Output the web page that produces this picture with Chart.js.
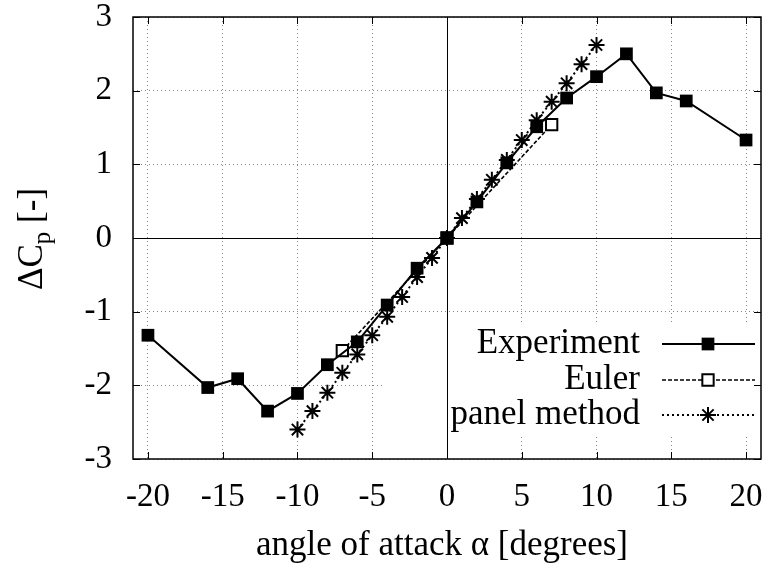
<!DOCTYPE html>
<html>
<head>
<meta charset="utf-8">
<script src="https://cdn.jsdelivr.net/npm/chart.js@4.4.1/dist/chart.umd.min.js"></script>
<style>
  html, body { margin: 0; padding: 0; background: #fff; }
  #wrap { width: 768px; height: 570px; }
</style>
</head>
<body>
<div id="wrap"><canvas id="c" width="768" height="570"></canvas></div>
<script>
// data
const xTicks = [-20, -15, -10, -5, 0, 5, 10, 15, 20];
const yTicks = [-3, -2, -1, 0, 1, 2, 3];

const expAlpha = [-20, -16, -14, -12, -10, -8, -6, -4, -2, 0, 2, 4, 6, 8, 10, 12, 14, 16, 20];
const expDcp   = [-1.32, -2.03, -1.91, -2.35, -2.11, -1.72, -1.41, -0.91, -0.41, 0, 0.49, 1.02, 1.51, 1.90, 2.19, 2.50, 1.97, 1.86, 1.33];

const eulAlpha = [-7, 0, 7];
const eulDcp   = [-1.53, 0, 1.54];

const panAlpha = [-10, -9, -8, -7, -6, -5, -4, -3, -2, -1, 0, 1, 2, 3, 4, 5, 6, 7, 8, 9, 10];
const panDcp   = [-2.60, -2.35, -2.10, -1.83, -1.58, -1.32, -1.07, -0.80, -0.53, -0.27, 0, 0.27, 0.53, 0.79, 1.06, 1.33, 1.60, 1.85, 2.10, 2.36, 2.62];

const seriesNames = ["Experiment", "Euler", "panel method"];

const FONT = "'Liberation Serif', 'Times New Roman', serif";
const FS = 33;   // tick labels
const FL = 35;   // key and axis titles

function pts(xs, ys) { return xs.map((x, i) => ({ x, y: ys[i] })); }

const datasets = [
  {
    label: seriesNames[0], data: pts(expAlpha, expDcp),
    showLine: true, borderColor: "#000", borderWidth: 2,
    pointStyle: "rect", pointRadius: 9, pointBackgroundColor: "#000", pointBorderColor: "#000", pointBorderWidth: 0
  },
  {
    label: seriesNames[1], data: pts(eulAlpha, eulDcp),
    showLine: true, borderColor: "#000", borderWidth: 1.6, borderDash: [4, 2],
    pointStyle: "rect", pointRadius: 8, pointBackgroundColor: "#fff", pointBorderColor: "#000", pointBorderWidth: 2
  },
  {
    label: seriesNames[2], data: pts(panAlpha, panDcp),
    showLine: true, borderColor: "#000", borderWidth: 2, borderDash: [2, 3],
    pointStyle: "star", pointRadius: 8, pointBackgroundColor: "#000", pointBorderColor: "#000", pointBorderWidth: 2
  }
];

// white key box, zero axes, frame and inward ticks
const decor = {
  id: "decor",
  beforeDraw(chart) {
    const ctx = chart.ctx;
    ctx.save();
    ctx.fillStyle = "#fff";
    ctx.fillRect(0, 0, chart.width, chart.height);
    ctx.restore();
  },
  beforeDatasetsDraw(chart) {
    const { ctx, chartArea: a, scales: { x, y } } = chart;
    ctx.save();
    // key background hides grid
    ctx.fillStyle = "#fff";
    ctx.fillRect(385, 324, a.right - 385, 112);
    // zero axes
    ctx.strokeStyle = "#000";
    ctx.lineWidth = 1;
    const x0 = Math.round(x.getPixelForValue(0)) + 0.5;
    const y0 = Math.round(y.getPixelForValue(0)) + 0.5;
    ctx.beginPath();
    ctx.moveTo(x0, a.top); ctx.lineTo(x0, a.bottom);
    ctx.moveTo(a.left, y0); ctx.lineTo(a.right, y0);
    ctx.stroke();
    ctx.restore();
  },
  afterDatasetsDraw(chart) {
    const { ctx, chartArea: a, scales: { x, y } } = chart;
    ctx.save();
    ctx.strokeStyle = "#000";
    ctx.lineWidth = 1.5;
    ctx.strokeRect(a.left, a.top, a.right - a.left, a.bottom - a.top);
    // inward ticks, mirrored
    const tl = 7;
    ctx.lineWidth = 1;
    ctx.beginPath();
    xTicks.forEach(v => {
      const px = Math.round(x.getPixelForValue(v)) + 0.5;
      ctx.moveTo(px, a.bottom); ctx.lineTo(px, a.bottom - tl);
      ctx.moveTo(px, a.top); ctx.lineTo(px, a.top + tl);
    });
    yTicks.forEach(v => {
      const py = Math.round(y.getPixelForValue(v)) + 0.5;
      ctx.moveTo(a.left, py); ctx.lineTo(a.left + tl, py);
      ctx.moveTo(a.right, py); ctx.lineTo(a.right - tl, py);
    });
    ctx.stroke();

    // key
    ctx.font = FL + "px " + FONT;
    ctx.fillStyle = "#000";
    ctx.textAlign = "right";
    ctx.textBaseline = "middle";
    const rows = [344, 380, 415];
    chart.data.datasets.forEach((ds, i) => {
      const ry = rows[i];
      ctx.fillText(ds.label, 640, ry);
      ctx.save();
      ctx.strokeStyle = "#000";
      ctx.lineWidth = ds.borderWidth;
      ctx.setLineDash(ds.borderDash || []);
      ctx.beginPath();
      ctx.moveTo(662, ry); ctx.lineTo(755, ry);
      ctx.stroke();
      ctx.setLineDash([]);
      ctx.fillStyle = ds.pointBackgroundColor;
      ctx.strokeStyle = ds.pointBorderColor;
      ctx.lineWidth = ds.pointBorderWidth;
      Chart.helpers.drawPoint(ctx, {
        pointStyle: ds.pointStyle, radius: ds.pointRadius, rotation: 0,
        borderWidth: ds.pointBorderWidth
      }, 708, ry);
      ctx.restore();
    });

    // axis titles
    ctx.textAlign = "center";
    ctx.textBaseline = "alphabetic";
    ctx.fillText("angle of attack \u03b1 [degrees]", (a.left + a.right) / 2 - 5, 555);

    ctx.translate(42, 239);
    ctx.rotate(-Math.PI / 2);
    ctx.textAlign = "left";
    const main = "\u0394C", sub = "p", rest = " [-]";
    const subFont = Math.round(FL * 0.72) + "px " + FONT;
    const w1 = ctx.measureText(main).width;
    const w3 = ctx.measureText(rest).width;
    ctx.font = subFont;
    const w2 = ctx.measureText(sub).width;
    const total = w1 + w2 + w3;
    const sx = -total / 2;
    ctx.font = FL + "px " + FONT;
    ctx.fillText(main, sx, 0);
    ctx.font = subFont;
    ctx.fillText(sub, sx + w1, 8);
    ctx.font = FL + "px " + FONT;
    ctx.fillText(rest, sx + w1 + w2, 0);
    ctx.restore();
  }
};

new Chart(document.getElementById("c"), {
  type: "scatter",
  data: { datasets },
  options: {
    responsive: false,
    animation: false,
    layout: { autoPadding: false, padding: { top: 17, right: 7, left: 0, bottom: 0 } },
    plugins: { legend: { display: false }, tooltip: { enabled: false } },
    scales: {
      x: {
        type: "linear", min: -21, max: 21,
        afterBuildTicks: s => { s.ticks = xTicks.map(v => ({ value: v })); },
        afterFit: s => { s.height = 111; s.paddingLeft = 0; s.paddingRight = 0; },
        grid: { color: "#888", lineWidth: 1, drawTicks: false },
        border: { display: false, dash: [1, 3] },
        ticks: { color: "#000", padding: 19, maxRotation: 0, font: { family: FONT, size: FS } }
      },
      y: {
        type: "linear", min: -3, max: 3,
        afterBuildTicks: s => { s.ticks = yTicks.map(v => ({ value: v })); },
        afterFit: s => { s.width = 133; s.paddingTop = 0; s.paddingBottom = 0; },
        grid: { color: "#888", lineWidth: 1, drawTicks: false },
        border: { display: false, dash: [1, 3] },
        ticks: { color: "#000", padding: 21, font: { family: FONT, size: FS } }
      }
    }
  },
  plugins: [decor]
});
</script>
</body>
</html>
